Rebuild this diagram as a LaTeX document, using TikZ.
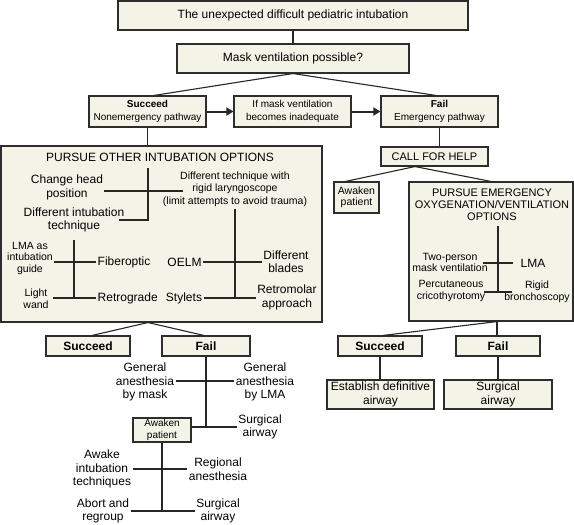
\documentclass[tikz,border=0pt]{standalone}
\usepackage{fontspec}
\setmainfont{Liberation Sans}
\usetikzlibrary{arrows.meta,positioning}
\definecolor{boxfill}{RGB}{243,243,231}
\definecolor{boxline}{RGB}{45,45,45}
\tikzset{
  box/.style={draw=boxline,fill=boxfill,line width=1.1pt,inner sep=0pt,align=center},
  link/.style={draw=black!85,line width=1.1pt},
  flow/.style={link,line width=2pt,-{Triangle[length=7pt,width=8pt]}},
  big/.style={font=\fontsize{12}{13.5}\selectfont,align=center,inner sep=1.5pt},
  small/.style={font=\fontsize{10.5}{12}\selectfont,align=center,inner sep=1.5pt},
  tiny/.style={font=\fontsize{10.5}{11.5}\selectfont,align=center,inner sep=1.5pt},
  head/.style={font=\fontsize{10}{12.5}\selectfont,align=center},
}
\begin{document}
\begin{tikzpicture}[x=1pt,y=-1pt]
\useasboundingbox (0,0) rectangle (574,525);
% top of the chart
\node[box,big,minimum width=350pt,minimum height=29pt] (top) at (293,15.5) {The unexpected difficult pediatric intubation};
\node[box,big,minimum width=232pt,minimum height=29pt] (mask) at (293,58.5) {Mask ventilation possible?};
\node[box,head,minimum width=117pt,minimum height=31pt] (succ1) at (147.5,111.5) {\textbf{Succeed}\\Nonemergency pathway};
\node[box,head,minimum width=117pt,minimum height=31pt] (mid) at (292.5,111.5) {If mask ventilation\\becomes inadequate};
\node[box,head,minimum width=117pt,minimum height=31pt] (fail1) at (439.5,111.5) {\textbf{Fail}\\Emergency pathway};
\draw[link] (top) -- (mask);
\draw[link] (mask.south) -- ([xshift=6.5pt]succ1.north);
\draw[link] (mask.south) -- ([xshift=-3.5pt]fail1.north);
\draw[flow] (succ1) -- (mid);
\draw[flow] (mid) -- (fail1);

% nonemergency side
\node[box,minimum width=321pt,minimum height=176pt] (pursue) at (161.5,234) {};
\draw[link] (succ1.south) -- (succ1.south |- pursue.north);
\node[big] (ptitle) at (160,157) {PURSUE OTHER INTUBATION OPTIONS};
\node[big] (chg) at (67,187.5) {Change head\\position};
\node[small,font=\fontsize{10.5}{12.5}\selectfont] (dtr) at (235,189) {Different technique with\\rigid laryngoscope\\(limit attempts to avoid trauma)};
\node[big] (dit) at (74,220) {Different intubation\\technique};
\coordinate (pa) at (148,168);
\coordinate (pb) at (148,220);
\coordinate (pc) at (119,220);
\coordinate (pd) at (104,191);
\coordinate (pe) at (183,191);
\draw[link] (pa) -- (pb) -- (pc);
\draw[link] (pd) -- (pe);

\node[tiny] (lmag) at (30,258) {LMA as\\intubation\\guide};
\node[big,anchor=west] (fib) at (96,262) {Fiberoptic};
\node[tiny] (lw) at (36,298.5) {Light\\wand};
\node[big,anchor=west] (retro) at (96,298) {Retrograde};
\coordinate (la) at (74,240);
\coordinate (lb) at (74,298);
\draw[link] (la) -- (lb);
\draw[link] (lmag.east |- fib) -- (fib.west);
\draw[link] (53,298) coordinate (lc) -- (retro.west);

\node[big] (oelm) at (184.5,262) {OELM};
\node[big] (blades) at (286,261.5) {Different\\blades};
\node[big] (stylets) at (184,298) {Stylets};
\node[big] (retromol) at (287,297.5) {Retromolar\\approach};
\coordinate (ra) at (235,209);
\coordinate (rb) at (235,298);
\draw[link] (ra) -- (rb);
\draw[link] (oelm.east) -- (blades.west |- oelm);
\draw[link] (stylets.east) -- (retromol.west |- stylets);

\node[box,font=\fontsize{12}{13.5}\selectfont\bfseries,minimum width=84pt,minimum height=20pt] (succ2) at (88,346) {Succeed};
\node[box,font=\fontsize{12}{13.5}\selectfont\bfseries,minimum width=88pt,minimum height=20pt] (fail2) at (206,346) {Fail};
\coordinate (pap) at ([xshift=-13.5pt]pursue.south);
\draw[link] (pap) -- ([xshift=4pt]succ2.north);
\draw[link] (pap) -- ([xshift=-2pt]fail2.north);

\node[big] (ganm) at (145,382) {General\\anesthesia\\by mask};
\node[big] (ganl) at (265,382) {General\\anesthesia\\by LMA};
\node[box,font=\fontsize{10}{12}\selectfont,minimum width=58pt,minimum height=24pt] (awk2) at (162,430) {Awaken\\patient};
\node[big] (sa1) at (260,427) {Surgical\\airway};
\coordinate (fa) at (206,427);
\draw[link] (fail2.south) -- (fa);
\draw[link] (ganm.east |- 0,381) coordinate (ga) -- (ganl.west |- ga);
\draw[link] (awk2.east |- fa) -- (sa1.west |- fa);

\node[big] (ait) at (102,469) {Awake\\intubation\\techniques};
\node[big] (reg) at (218,469) {Regional\\anesthesia};
\node[big] (abort) at (103,511) {Abort and\\regroup};
\node[big] (sa2) at (218,511) {Surgical\\airway};
\coordinate (aa) at (162,511);
\draw[link] (awk2.south) -- (aa);
\draw[link] (ait.east |- 0,469) coordinate (ab) -- (reg.west |- ab);
\draw[link] (abort.east |- aa) -- (sa2.west |- aa);

% emergency side
\node[box,font=\fontsize{11}{13}\selectfont,minimum width=107pt,minimum height=19pt] (call) at (434.5,156.5) {CALL FOR HELP};
\draw[link] (fail1.south) -- (fail1.south |- call.north);
\node[box,tiny,minimum width=45pt,minimum height=31pt] (awk1) at (356.5,197.5) {Awaken\\patient};
\node[box,minimum width=164pt,minimum height=139pt] (emerg) at (491,251.5) {};
\coordinate (cap) at ([xshift=-19.5pt]call.south);
\draw[link] (cap) -- ([xshift=-11pt]awk1.north);
\draw[link] (cap) -- (emerg.north);
\node[font=\fontsize{11}{12}\selectfont,align=center,inner sep=1.5pt] (etitle) at (492,205) {PURSUE EMERGENCY\\OXYGENATION/VENTILATION\\OPTIONS};
\node[tiny] (tpm) at (450,262.5) {Two-person\\mask ventilation};
\node[big] (lma) at (533,263) {LMA};
\node[tiny] (perc) at (451,291) {Percutaneous\\cricothyrotomy};
\node[tiny] (rigid) at (537,292) {Rigid\\bronchoscopy};
\coordinate (ea) at (498,226);
\coordinate (eb) at (498,292);
\draw[link] (ea) -- (eb);
\draw[link] (483,263) coordinate (ec) -- (513,263) coordinate (ed);
\draw[link] (484,292) coordinate (ee) -- (512,292) coordinate (ef);

\node[box,font=\fontsize{12}{13.5}\selectfont\bfseries,minimum width=84pt,minimum height=20pt] (succ3) at (380,346) {Succeed};
\node[box,font=\fontsize{12}{13.5}\selectfont\bfseries,minimum width=84pt,minimum height=20pt] (fail3) at (498,346) {Fail};
\coordinate (eap) at ([xshift=6pt]emerg.south);
\draw[link] (eap) -- ([xshift=3pt]succ3.north);
\draw[link] (eap) -- (eap |- fail3.north);
\node[box,big,minimum width=107pt,minimum height=29pt] (est) at (380.5,394.5) {Establish definitive\\airway};
\node[box,big,minimum width=108pt,minimum height=29pt] (surg) at (498,394.5) {Surgical\\airway};
\draw[link] (succ3.south) -- (succ3.south |- est.north);
\draw[link] (fail3.south) -- (fail3.south |- surg.north);
\end{tikzpicture}
\end{document}
